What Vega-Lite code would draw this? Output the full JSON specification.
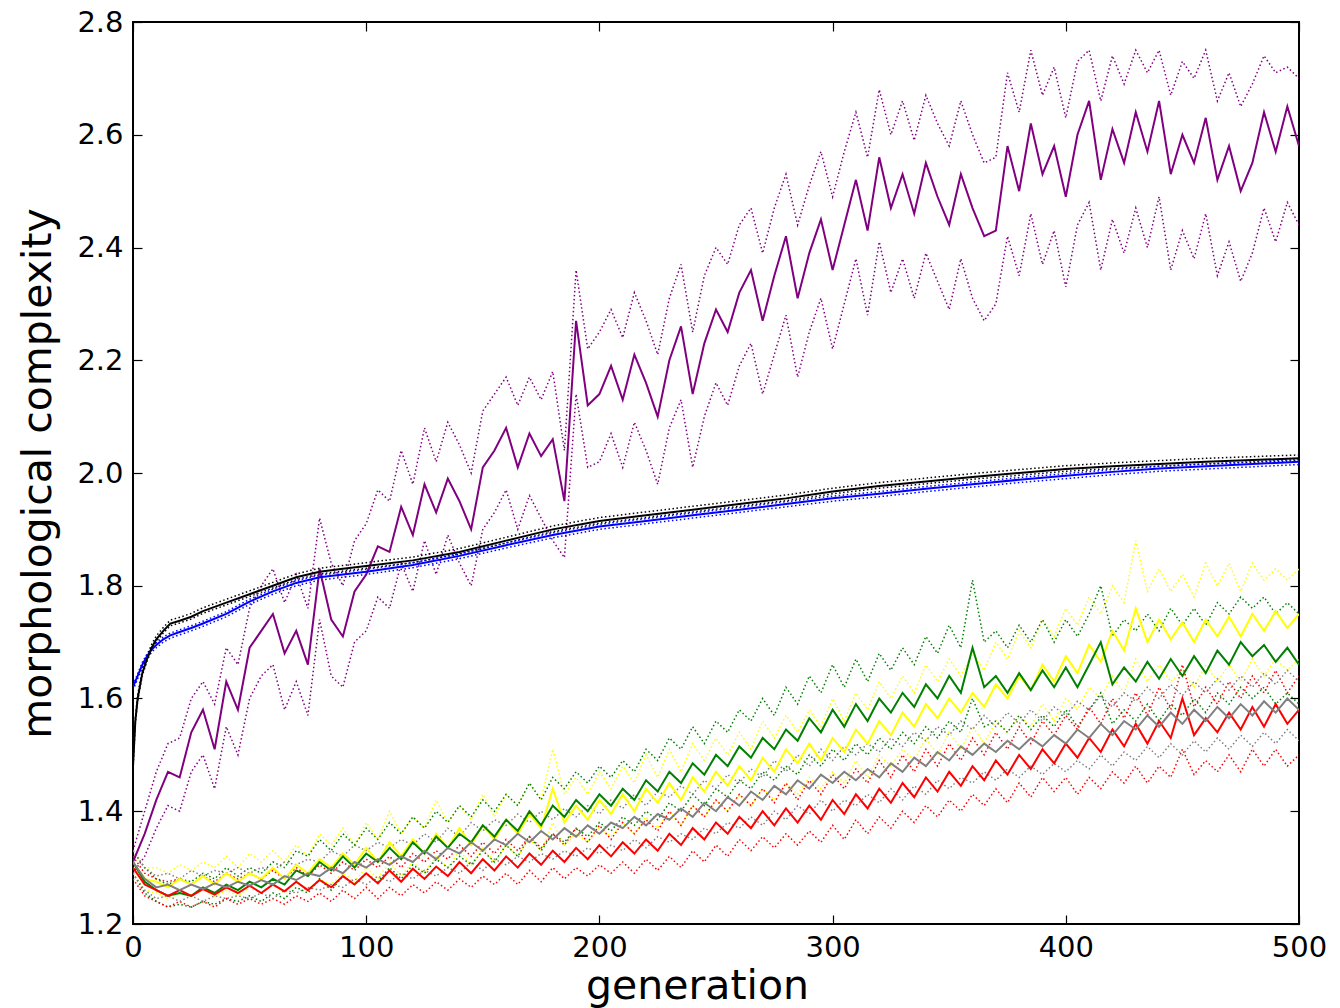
{
"$schema":"https://vega.github.io/schema/vega-lite/v6.json",
"width":1166,"height":902,
"autosize":{"type":"none"},
"padding":{"left":133,"top":22,"right":41,"bottom":84},
"background":"white",
"config":{"view":{"stroke":"black","strokeWidth":2},
"axis":{"grid":false,"domain":false,"tickColor":"black","tickSize":-9,"tickWidth":1.2,"labelFont":"DejaVu Sans","labelFontSize":29,"labelColor":"black","labelFlush":false,"labelOverlap":false,"titleFont":"DejaVu Sans","titleFontSize":41,"titleFontWeight":"normal","titleColor":"black"}},
"data":{"values":[
{"g":0,"s":"a","m":1.31,"l":1.29,"h":1.33},{"g":5,"s":"a","m":1.36,"l":1.32,"h":1.40},{"g":10,"s":"a","m":1.42,"l":1.37,"h":1.47},{"g":15,"s":"a","m":1.47,"l":1.41,"h":1.52},{"g":20,"s":"a","m":1.46,"l":1.40,"h":1.53},{"g":25,"s":"a","m":1.54,"l":1.47,"h":1.60},{"g":30,"s":"a","m":1.58,"l":1.50,"h":1.63},{"g":35,"s":"a","m":1.51,"l":1.44,"h":1.59},{"g":40,"s":"a","m":1.63,"l":1.55,"h":1.69},{"g":45,"s":"a","m":1.58,"l":1.50,"h":1.66},{"g":50,"s":"a","m":1.69,"l":1.60,"h":1.76},{"g":55,"s":"a","m":1.72,"l":1.64,"h":1.80},{"g":60,"s":"a","m":1.75,"l":1.66,"h":1.83},{"g":65,"s":"a","m":1.68,"l":1.58,"h":1.77},{"g":70,"s":"a","m":1.72,"l":1.63,"h":1.82},{"g":75,"s":"a","m":1.66,"l":1.57,"h":1.76},{"g":80,"s":"a","m":1.83,"l":1.74,"h":1.92},{"g":85,"s":"a","m":1.74,"l":1.64,"h":1.84},{"g":90,"s":"a","m":1.71,"l":1.62,"h":1.80},{"g":95,"s":"a","m":1.79,"l":1.70,"h":1.88},{"g":100,"s":"a","m":1.82,"l":1.72,"h":1.91},{"g":105,"s":"a","m":1.87,"l":1.78,"h":1.97},{"g":110,"s":"a","m":1.86,"l":1.76,"h":1.95},{"g":115,"s":"a","m":1.94,"l":1.84,"h":2.04},{"g":120,"s":"a","m":1.89,"l":1.79,"h":1.98},{"g":125,"s":"a","m":1.98,"l":1.88,"h":2.08},{"g":130,"s":"a","m":1.93,"l":1.82,"h":2.02},{"g":135,"s":"a","m":1.99,"l":1.89,"h":2.09},{"g":140,"s":"a","m":1.95,"l":1.84,"h":2.05},{"g":145,"s":"a","m":1.90,"l":1.80,"h":2.00},{"g":150,"s":"a","m":2.01,"l":1.90,"h":2.11},{"g":155,"s":"a","m":2.04,"l":1.93,"h":2.14},{"g":160,"s":"a","m":2.08,"l":1.97,"h":2.17},{"g":165,"s":"a","m":2.01,"l":1.90,"h":2.12},{"g":170,"s":"a","m":2.07,"l":1.96,"h":2.17},{"g":175,"s":"a","m":2.03,"l":1.92,"h":2.13},{"g":180,"s":"a","m":2.06,"l":1.88,"h":2.18},{"g":185,"s":"a","m":1.95,"l":1.85,"h":2.04},{"g":190,"s":"a","m":2.27,"l":2.14,"h":2.36},{"g":195,"s":"a","m":2.12,"l":2.01,"h":2.22},{"g":200,"s":"a","m":2.14,"l":2.02,"h":2.25},{"g":205,"s":"a","m":2.19,"l":2.07,"h":2.29},{"g":210,"s":"a","m":2.13,"l":2.01,"h":2.24},{"g":215,"s":"a","m":2.21,"l":2.09,"h":2.32},{"g":220,"s":"a","m":2.16,"l":2.04,"h":2.27},{"g":225,"s":"a","m":2.10,"l":1.98,"h":2.21},{"g":230,"s":"a","m":2.20,"l":2.08,"h":2.31},{"g":235,"s":"a","m":2.26,"l":2.13,"h":2.37},{"g":240,"s":"a","m":2.14,"l":2.01,"h":2.25},{"g":245,"s":"a","m":2.23,"l":2.10,"h":2.35},{"g":250,"s":"a","m":2.29,"l":2.16,"h":2.40},{"g":255,"s":"a","m":2.25,"l":2.12,"h":2.37},{"g":260,"s":"a","m":2.32,"l":2.19,"h":2.44},{"g":265,"s":"a","m":2.36,"l":2.23,"h":2.47},{"g":270,"s":"a","m":2.27,"l":2.14,"h":2.39},{"g":275,"s":"a","m":2.35,"l":2.21,"h":2.47},{"g":280,"s":"a","m":2.42,"l":2.28,"h":2.53},{"g":285,"s":"a","m":2.31,"l":2.17,"h":2.44},{"g":290,"s":"a","m":2.39,"l":2.25,"h":2.51},{"g":295,"s":"a","m":2.45,"l":2.31,"h":2.57},{"g":300,"s":"a","m":2.36,"l":2.22,"h":2.49},{"g":305,"s":"a","m":2.44,"l":2.30,"h":2.57},{"g":310,"s":"a","m":2.52,"l":2.38,"h":2.64},{"g":315,"s":"a","m":2.43,"l":2.28,"h":2.56},{"g":320,"s":"a","m":2.56,"l":2.41,"h":2.68},{"g":325,"s":"a","m":2.47,"l":2.32,"h":2.60},{"g":330,"s":"a","m":2.53,"l":2.38,"h":2.66},{"g":335,"s":"a","m":2.46,"l":2.31,"h":2.59},{"g":340,"s":"a","m":2.55,"l":2.39,"h":2.67},{"g":345,"s":"a","m":2.49,"l":2.34,"h":2.62},{"g":350,"s":"a","m":2.44,"l":2.29,"h":2.58},{"g":355,"s":"a","m":2.53,"l":2.38,"h":2.66},{"g":360,"s":"a","m":2.47,"l":2.31,"h":2.60},{"g":365,"s":"a","m":2.42,"l":2.27,"h":2.55},{"g":370,"s":"a","m":2.43,"l":2.30,"h":2.56},{"g":375,"s":"a","m":2.58,"l":2.42,"h":2.71},{"g":380,"s":"a","m":2.50,"l":2.35,"h":2.64},{"g":385,"s":"a","m":2.62,"l":2.46,"h":2.75},{"g":390,"s":"a","m":2.53,"l":2.37,"h":2.67},{"g":395,"s":"a","m":2.58,"l":2.43,"h":2.72},{"g":400,"s":"a","m":2.49,"l":2.33,"h":2.63},{"g":405,"s":"a","m":2.60,"l":2.44,"h":2.73},{"g":410,"s":"a","m":2.66,"l":2.48,"h":2.75},{"g":415,"s":"a","m":2.52,"l":2.36,"h":2.66},{"g":420,"s":"a","m":2.61,"l":2.45,"h":2.74},{"g":425,"s":"a","m":2.55,"l":2.39,"h":2.69},{"g":430,"s":"a","m":2.64,"l":2.47,"h":2.75},{"g":435,"s":"a","m":2.57,"l":2.40,"h":2.71},{"g":440,"s":"a","m":2.66,"l":2.49,"h":2.75},{"g":445,"s":"a","m":2.53,"l":2.36,"h":2.67},{"g":450,"s":"a","m":2.60,"l":2.43,"h":2.73},{"g":455,"s":"a","m":2.55,"l":2.38,"h":2.70},{"g":460,"s":"a","m":2.63,"l":2.46,"h":2.75},{"g":465,"s":"a","m":2.52,"l":2.35,"h":2.66},{"g":470,"s":"a","m":2.58,"l":2.41,"h":2.71},{"g":475,"s":"a","m":2.50,"l":2.34,"h":2.65},{"g":480,"s":"a","m":2.55,"l":2.39,"h":2.69},{"g":485,"s":"a","m":2.64,"l":2.47,"h":2.74},{"g":490,"s":"a","m":2.57,"l":2.41,"h":2.71},{"g":495,"s":"a","m":2.65,"l":2.48,"h":2.72},{"g":500,"s":"a","m":2.58,"l":2.44,"h":2.70},
{"g":0,"s":"b","m":1.31,"l":1.29,"h":1.33},{"g":5,"s":"b","m":1.28,"l":1.26,"h":1.30},{"g":10,"s":"b","m":1.275,"l":1.255,"h":1.30},{"g":15,"s":"b","m":1.265,"l":1.245,"h":1.29},{"g":20,"s":"b","m":1.28,"l":1.255,"h":1.305},{"g":25,"s":"b","m":1.27,"l":1.25,"h":1.295},{"g":30,"s":"b","m":1.285,"l":1.26,"h":1.31},{"g":35,"s":"b","m":1.27,"l":1.25,"h":1.30},{"g":40,"s":"b","m":1.29,"l":1.26,"h":1.32},{"g":45,"s":"b","m":1.275,"l":1.25,"h":1.30},{"g":50,"s":"b","m":1.29,"l":1.265,"h":1.325},{"g":55,"s":"b","m":1.28,"l":1.255,"h":1.31},{"g":60,"s":"b","m":1.30,"l":1.27,"h":1.33},{"g":65,"s":"b","m":1.28,"l":1.255,"h":1.31},{"g":70,"s":"b","m":1.305,"l":1.275,"h":1.34},{"g":75,"s":"b","m":1.29,"l":1.26,"h":1.32},{"g":80,"s":"b","m":1.315,"l":1.28,"h":1.36},{"g":85,"s":"b","m":1.30,"l":1.27,"h":1.34},{"g":90,"s":"b","m":1.325,"l":1.29,"h":1.37},{"g":95,"s":"b","m":1.305,"l":1.275,"h":1.34},{"g":100,"s":"b","m":1.335,"l":1.30,"h":1.38},{"g":105,"s":"b","m":1.31,"l":1.28,"h":1.35},{"g":110,"s":"b","m":1.345,"l":1.31,"h":1.40},{"g":115,"s":"b","m":1.32,"l":1.285,"h":1.36},{"g":120,"s":"b","m":1.35,"l":1.31,"h":1.39},{"g":125,"s":"b","m":1.325,"l":1.29,"h":1.37},{"g":130,"s":"b","m":1.36,"l":1.32,"h":1.42},{"g":135,"s":"b","m":1.335,"l":1.30,"h":1.38},{"g":140,"s":"b","m":1.37,"l":1.33,"h":1.41},{"g":145,"s":"b","m":1.34,"l":1.305,"h":1.385},{"g":150,"s":"b","m":1.375,"l":1.335,"h":1.43},{"g":155,"s":"b","m":1.35,"l":1.31,"h":1.39},{"g":160,"s":"b","m":1.385,"l":1.34,"h":1.43},{"g":165,"s":"b","m":1.36,"l":1.32,"h":1.41},{"g":170,"s":"b","m":1.395,"l":1.35,"h":1.45},{"g":175,"s":"b","m":1.37,"l":1.33,"h":1.42},{"g":180,"s":"b","m":1.44,"l":1.38,"h":1.51},{"g":185,"s":"b","m":1.38,"l":1.34,"h":1.43},{"g":190,"s":"b","m":1.41,"l":1.36,"h":1.46},{"g":195,"s":"b","m":1.385,"l":1.345,"h":1.43},{"g":200,"s":"b","m":1.42,"l":1.37,"h":1.47},{"g":205,"s":"b","m":1.395,"l":1.355,"h":1.44},{"g":210,"s":"b","m":1.43,"l":1.38,"h":1.48},{"g":215,"s":"b","m":1.40,"l":1.36,"h":1.45},{"g":220,"s":"b","m":1.44,"l":1.39,"h":1.50},{"g":225,"s":"b","m":1.415,"l":1.37,"h":1.46},{"g":230,"s":"b","m":1.45,"l":1.40,"h":1.51},{"g":235,"s":"b","m":1.42,"l":1.375,"h":1.47},{"g":240,"s":"b","m":1.46,"l":1.41,"h":1.52},{"g":245,"s":"b","m":1.435,"l":1.39,"h":1.49},{"g":250,"s":"b","m":1.47,"l":1.42,"h":1.53},{"g":255,"s":"b","m":1.445,"l":1.40,"h":1.50},{"g":260,"s":"b","m":1.48,"l":1.43,"h":1.54},{"g":265,"s":"b","m":1.455,"l":1.41,"h":1.51},{"g":270,"s":"b","m":1.495,"l":1.44,"h":1.56},{"g":275,"s":"b","m":1.47,"l":1.42,"h":1.53},{"g":280,"s":"b","m":1.51,"l":1.45,"h":1.57},{"g":285,"s":"b","m":1.485,"l":1.43,"h":1.54},{"g":290,"s":"b","m":1.52,"l":1.46,"h":1.58},{"g":295,"s":"b","m":1.49,"l":1.44,"h":1.55},{"g":300,"s":"b","m":1.53,"l":1.47,"h":1.60},{"g":305,"s":"b","m":1.505,"l":1.45,"h":1.56},{"g":310,"s":"b","m":1.545,"l":1.49,"h":1.61},{"g":315,"s":"b","m":1.52,"l":1.46,"h":1.58},{"g":320,"s":"b","m":1.56,"l":1.50,"h":1.63},{"g":325,"s":"b","m":1.535,"l":1.48,"h":1.60},{"g":330,"s":"b","m":1.575,"l":1.51,"h":1.64},{"g":335,"s":"b","m":1.55,"l":1.49,"h":1.61},{"g":340,"s":"b","m":1.59,"l":1.53,"h":1.66},{"g":345,"s":"b","m":1.565,"l":1.50,"h":1.63},{"g":350,"s":"b","m":1.60,"l":1.54,"h":1.67},{"g":355,"s":"b","m":1.575,"l":1.51,"h":1.64},{"g":360,"s":"b","m":1.61,"l":1.55,"h":1.68},{"g":365,"s":"b","m":1.585,"l":1.52,"h":1.65},{"g":370,"s":"b","m":1.625,"l":1.56,"h":1.70},{"g":375,"s":"b","m":1.60,"l":1.54,"h":1.67},{"g":380,"s":"b","m":1.64,"l":1.57,"h":1.72},{"g":385,"s":"b","m":1.615,"l":1.55,"h":1.69},{"g":390,"s":"b","m":1.66,"l":1.59,"h":1.74},{"g":395,"s":"b","m":1.63,"l":1.56,"h":1.71},{"g":400,"s":"b","m":1.675,"l":1.60,"h":1.76},{"g":405,"s":"b","m":1.645,"l":1.58,"h":1.73},{"g":410,"s":"b","m":1.695,"l":1.62,"h":1.78},{"g":415,"s":"b","m":1.665,"l":1.60,"h":1.75},{"g":420,"s":"b","m":1.72,"l":1.64,"h":1.80},{"g":425,"s":"b","m":1.685,"l":1.61,"h":1.77},{"g":430,"s":"b","m":1.76,"l":1.67,"h":1.88},{"g":435,"s":"b","m":1.70,"l":1.63,"h":1.79},{"g":440,"s":"b","m":1.74,"l":1.66,"h":1.83},{"g":445,"s":"b","m":1.705,"l":1.63,"h":1.79},{"g":450,"s":"b","m":1.735,"l":1.65,"h":1.82},{"g":455,"s":"b","m":1.70,"l":1.62,"h":1.78},{"g":460,"s":"b","m":1.74,"l":1.66,"h":1.84},{"g":465,"s":"b","m":1.71,"l":1.63,"h":1.80},{"g":470,"s":"b","m":1.745,"l":1.66,"h":1.84},{"g":475,"s":"b","m":1.71,"l":1.63,"h":1.79},{"g":480,"s":"b","m":1.75,"l":1.67,"h":1.84},{"g":485,"s":"b","m":1.72,"l":1.64,"h":1.81},{"g":490,"s":"b","m":1.755,"l":1.67,"h":1.83},{"g":495,"s":"b","m":1.725,"l":1.65,"h":1.81},{"g":500,"s":"b","m":1.75,"l":1.67,"h":1.83},
{"g":0,"s":"c","m":1.31,"l":1.29,"h":1.33},{"g":5,"s":"c","m":1.275,"l":1.255,"h":1.30},{"g":10,"s":"c","m":1.26,"l":1.24,"h":1.28},{"g":15,"s":"c","m":1.25,"l":1.23,"h":1.27},{"g":20,"s":"c","m":1.255,"l":1.235,"h":1.28},{"g":25,"s":"c","m":1.25,"l":1.23,"h":1.275},{"g":30,"s":"c","m":1.265,"l":1.24,"h":1.29},{"g":35,"s":"c","m":1.255,"l":1.235,"h":1.28},{"g":40,"s":"c","m":1.27,"l":1.245,"h":1.30},{"g":45,"s":"c","m":1.26,"l":1.24,"h":1.285},{"g":50,"s":"c","m":1.275,"l":1.25,"h":1.30},{"g":55,"s":"c","m":1.265,"l":1.24,"h":1.29},{"g":60,"s":"c","m":1.28,"l":1.255,"h":1.31},{"g":65,"s":"c","m":1.27,"l":1.245,"h":1.30},{"g":70,"s":"c","m":1.295,"l":1.265,"h":1.33},{"g":75,"s":"c","m":1.285,"l":1.255,"h":1.32},{"g":80,"s":"c","m":1.31,"l":1.28,"h":1.35},{"g":85,"s":"c","m":1.295,"l":1.26,"h":1.33},{"g":90,"s":"c","m":1.32,"l":1.285,"h":1.36},{"g":95,"s":"c","m":1.30,"l":1.27,"h":1.34},{"g":100,"s":"c","m":1.325,"l":1.29,"h":1.37},{"g":105,"s":"c","m":1.31,"l":1.275,"h":1.35},{"g":110,"s":"c","m":1.335,"l":1.30,"h":1.38},{"g":115,"s":"c","m":1.315,"l":1.28,"h":1.36},{"g":120,"s":"c","m":1.345,"l":1.305,"h":1.39},{"g":125,"s":"c","m":1.325,"l":1.29,"h":1.37},{"g":130,"s":"c","m":1.355,"l":1.315,"h":1.40},{"g":135,"s":"c","m":1.335,"l":1.30,"h":1.38},{"g":140,"s":"c","m":1.36,"l":1.32,"h":1.41},{"g":145,"s":"c","m":1.345,"l":1.305,"h":1.39},{"g":150,"s":"c","m":1.375,"l":1.33,"h":1.42},{"g":155,"s":"c","m":1.355,"l":1.31,"h":1.40},{"g":160,"s":"c","m":1.385,"l":1.34,"h":1.43},{"g":165,"s":"c","m":1.365,"l":1.32,"h":1.41},{"g":170,"s":"c","m":1.40,"l":1.355,"h":1.45},{"g":175,"s":"c","m":1.375,"l":1.33,"h":1.42},{"g":180,"s":"c","m":1.41,"l":1.36,"h":1.46},{"g":185,"s":"c","m":1.39,"l":1.345,"h":1.44},{"g":190,"s":"c","m":1.42,"l":1.37,"h":1.47},{"g":195,"s":"c","m":1.40,"l":1.355,"h":1.45},{"g":200,"s":"c","m":1.43,"l":1.38,"h":1.48},{"g":205,"s":"c","m":1.41,"l":1.365,"h":1.46},{"g":210,"s":"c","m":1.44,"l":1.39,"h":1.49},{"g":215,"s":"c","m":1.42,"l":1.375,"h":1.47},{"g":220,"s":"c","m":1.455,"l":1.40,"h":1.51},{"g":225,"s":"c","m":1.435,"l":1.385,"h":1.49},{"g":230,"s":"c","m":1.47,"l":1.415,"h":1.53},{"g":235,"s":"c","m":1.45,"l":1.40,"h":1.51},{"g":240,"s":"c","m":1.485,"l":1.43,"h":1.55},{"g":245,"s":"c","m":1.465,"l":1.41,"h":1.52},{"g":250,"s":"c","m":1.50,"l":1.44,"h":1.56},{"g":255,"s":"c","m":1.48,"l":1.425,"h":1.54},{"g":260,"s":"c","m":1.515,"l":1.455,"h":1.58},{"g":265,"s":"c","m":1.495,"l":1.44,"h":1.56},{"g":270,"s":"c","m":1.53,"l":1.47,"h":1.60},{"g":275,"s":"c","m":1.51,"l":1.455,"h":1.57},{"g":280,"s":"c","m":1.545,"l":1.48,"h":1.62},{"g":285,"s":"c","m":1.525,"l":1.465,"h":1.59},{"g":290,"s":"c","m":1.565,"l":1.50,"h":1.64},{"g":295,"s":"c","m":1.54,"l":1.48,"h":1.61},{"g":300,"s":"c","m":1.58,"l":1.51,"h":1.66},{"g":305,"s":"c","m":1.55,"l":1.49,"h":1.62},{"g":310,"s":"c","m":1.59,"l":1.52,"h":1.67},{"g":315,"s":"c","m":1.56,"l":1.50,"h":1.63},{"g":320,"s":"c","m":1.60,"l":1.53,"h":1.68},{"g":325,"s":"c","m":1.575,"l":1.51,"h":1.65},{"g":330,"s":"c","m":1.61,"l":1.54,"h":1.69},{"g":335,"s":"c","m":1.585,"l":1.52,"h":1.66},{"g":340,"s":"c","m":1.625,"l":1.55,"h":1.71},{"g":345,"s":"c","m":1.60,"l":1.53,"h":1.68},{"g":350,"s":"c","m":1.64,"l":1.56,"h":1.73},{"g":355,"s":"c","m":1.61,"l":1.54,"h":1.69},{"g":360,"s":"c","m":1.69,"l":1.60,"h":1.81},{"g":365,"s":"c","m":1.62,"l":1.55,"h":1.70},{"g":370,"s":"c","m":1.64,"l":1.56,"h":1.72},{"g":375,"s":"c","m":1.61,"l":1.54,"h":1.69},{"g":380,"s":"c","m":1.645,"l":1.57,"h":1.73},{"g":385,"s":"c","m":1.615,"l":1.545,"h":1.70},{"g":390,"s":"c","m":1.65,"l":1.57,"h":1.74},{"g":395,"s":"c","m":1.62,"l":1.55,"h":1.70},{"g":400,"s":"c","m":1.655,"l":1.58,"h":1.74},{"g":405,"s":"c","m":1.62,"l":1.55,"h":1.71},{"g":410,"s":"c","m":1.66,"l":1.58,"h":1.75},{"g":415,"s":"c","m":1.70,"l":1.61,"h":1.80},{"g":420,"s":"c","m":1.625,"l":1.555,"h":1.71},{"g":425,"s":"c","m":1.655,"l":1.58,"h":1.74},{"g":430,"s":"c","m":1.63,"l":1.56,"h":1.72},{"g":435,"s":"c","m":1.665,"l":1.59,"h":1.75},{"g":440,"s":"c","m":1.635,"l":1.56,"h":1.72},{"g":445,"s":"c","m":1.67,"l":1.59,"h":1.76},{"g":450,"s":"c","m":1.64,"l":1.57,"h":1.73},{"g":455,"s":"c","m":1.675,"l":1.60,"h":1.76},{"g":460,"s":"c","m":1.645,"l":1.575,"h":1.73},{"g":465,"s":"c","m":1.685,"l":1.61,"h":1.77},{"g":470,"s":"c","m":1.66,"l":1.59,"h":1.75},{"g":475,"s":"c","m":1.70,"l":1.62,"h":1.78},{"g":480,"s":"c","m":1.675,"l":1.60,"h":1.76},{"g":485,"s":"c","m":1.695,"l":1.62,"h":1.78},{"g":490,"s":"c","m":1.665,"l":1.59,"h":1.75},{"g":495,"s":"c","m":1.69,"l":1.61,"h":1.77},{"g":500,"s":"c","m":1.66,"l":1.59,"h":1.75},
{"g":0,"s":"d","m":1.30,"l":1.28,"h":1.32},{"g":5,"s":"d","m":1.27,"l":1.25,"h":1.29},{"g":10,"s":"d","m":1.26,"l":1.24,"h":1.28},{"g":15,"s":"d","m":1.25,"l":1.23,"h":1.275},{"g":20,"s":"d","m":1.26,"l":1.24,"h":1.28},{"g":25,"s":"d","m":1.25,"l":1.23,"h":1.27},{"g":30,"s":"d","m":1.262,"l":1.24,"h":1.285},{"g":35,"s":"d","m":1.252,"l":1.23,"h":1.275},{"g":40,"s":"d","m":1.265,"l":1.245,"h":1.29},{"g":45,"s":"d","m":1.255,"l":1.235,"h":1.28},{"g":50,"s":"d","m":1.268,"l":1.245,"h":1.29},{"g":55,"s":"d","m":1.255,"l":1.235,"h":1.28},{"g":60,"s":"d","m":1.27,"l":1.245,"h":1.295},{"g":65,"s":"d","m":1.258,"l":1.235,"h":1.28},{"g":70,"s":"d","m":1.275,"l":1.25,"h":1.30},{"g":75,"s":"d","m":1.26,"l":1.24,"h":1.285},{"g":80,"s":"d","m":1.278,"l":1.255,"h":1.305},{"g":85,"s":"d","m":1.265,"l":1.24,"h":1.29},{"g":90,"s":"d","m":1.285,"l":1.26,"h":1.31},{"g":95,"s":"d","m":1.27,"l":1.245,"h":1.295},{"g":100,"s":"d","m":1.29,"l":1.265,"h":1.315},{"g":105,"s":"d","m":1.272,"l":1.245,"h":1.30},{"g":110,"s":"d","m":1.295,"l":1.265,"h":1.32},{"g":115,"s":"d","m":1.275,"l":1.25,"h":1.30},{"g":120,"s":"d","m":1.298,"l":1.27,"h":1.325},{"g":125,"s":"d","m":1.28,"l":1.255,"h":1.31},{"g":130,"s":"d","m":1.302,"l":1.275,"h":1.33},{"g":135,"s":"d","m":1.285,"l":1.26,"h":1.315},{"g":140,"s":"d","m":1.31,"l":1.28,"h":1.34},{"g":145,"s":"d","m":1.29,"l":1.265,"h":1.32},{"g":150,"s":"d","m":1.315,"l":1.285,"h":1.345},{"g":155,"s":"d","m":1.295,"l":1.27,"h":1.325},{"g":160,"s":"d","m":1.32,"l":1.29,"h":1.35},{"g":165,"s":"d","m":1.30,"l":1.27,"h":1.33},{"g":170,"s":"d","m":1.325,"l":1.295,"h":1.355},{"g":175,"s":"d","m":1.305,"l":1.275,"h":1.335},{"g":180,"s":"d","m":1.33,"l":1.30,"h":1.36},{"g":185,"s":"d","m":1.31,"l":1.28,"h":1.34},{"g":190,"s":"d","m":1.335,"l":1.30,"h":1.37},{"g":195,"s":"d","m":1.315,"l":1.285,"h":1.345},{"g":200,"s":"d","m":1.34,"l":1.305,"h":1.375},{"g":205,"s":"d","m":1.32,"l":1.29,"h":1.35},{"g":210,"s":"d","m":1.345,"l":1.31,"h":1.38},{"g":215,"s":"d","m":1.325,"l":1.29,"h":1.36},{"g":220,"s":"d","m":1.35,"l":1.315,"h":1.385},{"g":225,"s":"d","m":1.33,"l":1.295,"h":1.365},{"g":230,"s":"d","m":1.36,"l":1.32,"h":1.40},{"g":235,"s":"d","m":1.34,"l":1.30,"h":1.375},{"g":240,"s":"d","m":1.37,"l":1.33,"h":1.41},{"g":245,"s":"d","m":1.35,"l":1.31,"h":1.39},{"g":250,"s":"d","m":1.38,"l":1.34,"h":1.42},{"g":255,"s":"d","m":1.36,"l":1.32,"h":1.40},{"g":260,"s":"d","m":1.39,"l":1.35,"h":1.43},{"g":265,"s":"d","m":1.37,"l":1.33,"h":1.41},{"g":270,"s":"d","m":1.40,"l":1.355,"h":1.44},{"g":275,"s":"d","m":1.375,"l":1.335,"h":1.415},{"g":280,"s":"d","m":1.405,"l":1.36,"h":1.45},{"g":285,"s":"d","m":1.38,"l":1.34,"h":1.42},{"g":290,"s":"d","m":1.41,"l":1.365,"h":1.455},{"g":295,"s":"d","m":1.385,"l":1.345,"h":1.43},{"g":300,"s":"d","m":1.42,"l":1.375,"h":1.465},{"g":305,"s":"d","m":1.395,"l":1.35,"h":1.44},{"g":310,"s":"d","m":1.43,"l":1.385,"h":1.475},{"g":315,"s":"d","m":1.405,"l":1.36,"h":1.45},{"g":320,"s":"d","m":1.44,"l":1.39,"h":1.49},{"g":325,"s":"d","m":1.415,"l":1.37,"h":1.46},{"g":330,"s":"d","m":1.45,"l":1.40,"h":1.50},{"g":335,"s":"d","m":1.425,"l":1.38,"h":1.47},{"g":340,"s":"d","m":1.46,"l":1.41,"h":1.51},{"g":345,"s":"d","m":1.435,"l":1.39,"h":1.48},{"g":350,"s":"d","m":1.47,"l":1.42,"h":1.52},{"g":355,"s":"d","m":1.445,"l":1.40,"h":1.49},{"g":360,"s":"d","m":1.48,"l":1.43,"h":1.53},{"g":365,"s":"d","m":1.455,"l":1.41,"h":1.50},{"g":370,"s":"d","m":1.49,"l":1.44,"h":1.54},{"g":375,"s":"d","m":1.465,"l":1.415,"h":1.51},{"g":380,"s":"d","m":1.50,"l":1.45,"h":1.55},{"g":385,"s":"d","m":1.475,"l":1.425,"h":1.52},{"g":390,"s":"d","m":1.51,"l":1.46,"h":1.56},{"g":395,"s":"d","m":1.485,"l":1.435,"h":1.535},{"g":400,"s":"d","m":1.52,"l":1.46,"h":1.57},{"g":405,"s":"d","m":1.495,"l":1.43,"h":1.545},{"g":410,"s":"d","m":1.53,"l":1.46,"h":1.585},{"g":415,"s":"d","m":1.505,"l":1.44,"h":1.555},{"g":420,"s":"d","m":1.545,"l":1.47,"h":1.60},{"g":425,"s":"d","m":1.515,"l":1.45,"h":1.565},{"g":430,"s":"d","m":1.555,"l":1.48,"h":1.61},{"g":435,"s":"d","m":1.52,"l":1.45,"h":1.57},{"g":440,"s":"d","m":1.56,"l":1.48,"h":1.62},{"g":445,"s":"d","m":1.53,"l":1.46,"h":1.58},{"g":450,"s":"d","m":1.60,"l":1.51,"h":1.66},{"g":455,"s":"d","m":1.535,"l":1.465,"h":1.585},{"g":460,"s":"d","m":1.565,"l":1.49,"h":1.62},{"g":465,"s":"d","m":1.54,"l":1.47,"h":1.59},{"g":470,"s":"d","m":1.575,"l":1.50,"h":1.63},{"g":475,"s":"d","m":1.545,"l":1.47,"h":1.60},{"g":480,"s":"d","m":1.585,"l":1.51,"h":1.64},{"g":485,"s":"d","m":1.55,"l":1.48,"h":1.61},{"g":490,"s":"d","m":1.59,"l":1.51,"h":1.65},{"g":495,"s":"d","m":1.555,"l":1.48,"h":1.61},{"g":500,"s":"d","m":1.58,"l":1.50,"h":1.64},
{"g":0,"s":"e","m":1.31,"l":1.29,"h":1.33},{"g":5,"s":"e","m":1.28,"l":1.26,"h":1.30},{"g":10,"s":"e","m":1.265,"l":1.245,"h":1.285},{"g":15,"s":"e","m":1.27,"l":1.25,"h":1.29},{"g":20,"s":"e","m":1.26,"l":1.24,"h":1.28},{"g":25,"s":"e","m":1.27,"l":1.25,"h":1.295},{"g":30,"s":"e","m":1.262,"l":1.24,"h":1.285},{"g":35,"s":"e","m":1.272,"l":1.25,"h":1.295},{"g":40,"s":"e","m":1.265,"l":1.245,"h":1.29},{"g":45,"s":"e","m":1.275,"l":1.25,"h":1.30},{"g":50,"s":"e","m":1.268,"l":1.245,"h":1.29},{"g":55,"s":"e","m":1.278,"l":1.255,"h":1.30},{"g":60,"s":"e","m":1.27,"l":1.245,"h":1.295},{"g":65,"s":"e","m":1.285,"l":1.26,"h":1.31},{"g":70,"s":"e","m":1.278,"l":1.255,"h":1.305},{"g":75,"s":"e","m":1.29,"l":1.265,"h":1.315},{"g":80,"s":"e","m":1.285,"l":1.26,"h":1.31},{"g":85,"s":"e","m":1.30,"l":1.27,"h":1.33},{"g":90,"s":"e","m":1.29,"l":1.265,"h":1.32},{"g":95,"s":"e","m":1.31,"l":1.28,"h":1.34},{"g":100,"s":"e","m":1.30,"l":1.27,"h":1.33},{"g":105,"s":"e","m":1.315,"l":1.285,"h":1.345},{"g":110,"s":"e","m":1.305,"l":1.275,"h":1.335},{"g":115,"s":"e","m":1.32,"l":1.29,"h":1.35},{"g":120,"s":"e","m":1.31,"l":1.28,"h":1.34},{"g":125,"s":"e","m":1.33,"l":1.295,"h":1.36},{"g":130,"s":"e","m":1.315,"l":1.285,"h":1.345},{"g":135,"s":"e","m":1.335,"l":1.30,"h":1.37},{"g":140,"s":"e","m":1.325,"l":1.29,"h":1.355},{"g":145,"s":"e","m":1.345,"l":1.31,"h":1.38},{"g":150,"s":"e","m":1.33,"l":1.295,"h":1.365},{"g":155,"s":"e","m":1.35,"l":1.315,"h":1.385},{"g":160,"s":"e","m":1.34,"l":1.305,"h":1.375},{"g":165,"s":"e","m":1.36,"l":1.32,"h":1.395},{"g":170,"s":"e","m":1.345,"l":1.31,"h":1.38},{"g":175,"s":"e","m":1.365,"l":1.325,"h":1.40},{"g":180,"s":"e","m":1.35,"l":1.315,"h":1.385},{"g":185,"s":"e","m":1.37,"l":1.33,"h":1.405},{"g":190,"s":"e","m":1.355,"l":1.32,"h":1.39},{"g":195,"s":"e","m":1.375,"l":1.335,"h":1.41},{"g":200,"s":"e","m":1.36,"l":1.325,"h":1.395},{"g":205,"s":"e","m":1.38,"l":1.34,"h":1.42},{"g":210,"s":"e","m":1.37,"l":1.33,"h":1.405},{"g":215,"s":"e","m":1.39,"l":1.35,"h":1.43},{"g":220,"s":"e","m":1.375,"l":1.335,"h":1.41},{"g":225,"s":"e","m":1.395,"l":1.355,"h":1.435},{"g":230,"s":"e","m":1.385,"l":1.345,"h":1.425},{"g":235,"s":"e","m":1.405,"l":1.36,"h":1.445},{"g":240,"s":"e","m":1.39,"l":1.35,"h":1.43},{"g":245,"s":"e","m":1.415,"l":1.37,"h":1.455},{"g":250,"s":"e","m":1.40,"l":1.36,"h":1.44},{"g":255,"s":"e","m":1.425,"l":1.38,"h":1.465},{"g":260,"s":"e","m":1.41,"l":1.37,"h":1.45},{"g":265,"s":"e","m":1.435,"l":1.39,"h":1.475},{"g":270,"s":"e","m":1.42,"l":1.375,"h":1.46},{"g":275,"s":"e","m":1.445,"l":1.40,"h":1.49},{"g":280,"s":"e","m":1.43,"l":1.385,"h":1.47},{"g":285,"s":"e","m":1.455,"l":1.41,"h":1.50},{"g":290,"s":"e","m":1.44,"l":1.395,"h":1.48},{"g":295,"s":"e","m":1.465,"l":1.42,"h":1.51},{"g":300,"s":"e","m":1.45,"l":1.40,"h":1.49},{"g":305,"s":"e","m":1.47,"l":1.42,"h":1.515},{"g":310,"s":"e","m":1.455,"l":1.41,"h":1.50},{"g":315,"s":"e","m":1.475,"l":1.43,"h":1.52},{"g":320,"s":"e","m":1.46,"l":1.415,"h":1.505},{"g":325,"s":"e","m":1.485,"l":1.44,"h":1.53},{"g":330,"s":"e","m":1.47,"l":1.42,"h":1.515},{"g":335,"s":"e","m":1.495,"l":1.445,"h":1.54},{"g":340,"s":"e","m":1.48,"l":1.43,"h":1.525},{"g":345,"s":"e","m":1.505,"l":1.455,"h":1.55},{"g":350,"s":"e","m":1.49,"l":1.44,"h":1.535},{"g":355,"s":"e","m":1.515,"l":1.46,"h":1.56},{"g":360,"s":"e","m":1.50,"l":1.45,"h":1.545},{"g":365,"s":"e","m":1.52,"l":1.47,"h":1.57},{"g":370,"s":"e","m":1.505,"l":1.455,"h":1.55},{"g":375,"s":"e","m":1.525,"l":1.475,"h":1.575},{"g":380,"s":"e","m":1.51,"l":1.46,"h":1.555},{"g":385,"s":"e","m":1.53,"l":1.48,"h":1.58},{"g":390,"s":"e","m":1.515,"l":1.465,"h":1.56},{"g":395,"s":"e","m":1.535,"l":1.485,"h":1.585},{"g":400,"s":"e","m":1.52,"l":1.47,"h":1.57},{"g":405,"s":"e","m":1.545,"l":1.49,"h":1.595},{"g":410,"s":"e","m":1.53,"l":1.475,"h":1.58},{"g":415,"s":"e","m":1.555,"l":1.50,"h":1.605},{"g":420,"s":"e","m":1.535,"l":1.48,"h":1.585},{"g":425,"s":"e","m":1.56,"l":1.505,"h":1.61},{"g":430,"s":"e","m":1.545,"l":1.49,"h":1.595},{"g":435,"s":"e","m":1.57,"l":1.515,"h":1.62},{"g":440,"s":"e","m":1.55,"l":1.495,"h":1.60},{"g":445,"s":"e","m":1.575,"l":1.52,"h":1.625},{"g":450,"s":"e","m":1.555,"l":1.50,"h":1.605},{"g":455,"s":"e","m":1.58,"l":1.525,"h":1.63},{"g":460,"s":"e","m":1.56,"l":1.505,"h":1.61},{"g":465,"s":"e","m":1.585,"l":1.53,"h":1.635},{"g":470,"s":"e","m":1.565,"l":1.51,"h":1.615},{"g":475,"s":"e","m":1.59,"l":1.535,"h":1.64},{"g":480,"s":"e","m":1.57,"l":1.515,"h":1.62},{"g":485,"s":"e","m":1.595,"l":1.54,"h":1.645},{"g":490,"s":"e","m":1.575,"l":1.52,"h":1.625},{"g":495,"s":"e","m":1.60,"l":1.545,"h":1.65},{"g":500,"s":"e","m":1.58,"l":1.525,"h":1.63},
{"g":0,"s":"f","m":1.62,"l":1.615,"h":1.624},{"g":2,"s":"f","m":1.64,"l":1.635,"h":1.644},{"g":4,"s":"f","m":1.66,"l":1.655,"h":1.664},{"g":6,"s":"f","m":1.675,"l":1.67,"h":1.679},{"g":8,"s":"f","m":1.687,"l":1.682,"h":1.691},{"g":10,"s":"f","m":1.695,"l":1.69,"h":1.699},{"g":13,"s":"f","m":1.705,"l":1.70,"h":1.709},{"g":16,"s":"f","m":1.712,"l":1.707,"h":1.716},{"g":20,"s":"f","m":1.718,"l":1.713,"h":1.722},{"g":25,"s":"f","m":1.725,"l":1.72,"h":1.729},{"g":30,"s":"f","m":1.733,"l":1.728,"h":1.737},{"g":40,"s":"f","m":1.75,"l":1.745,"h":1.754},{"g":50,"s":"f","m":1.772,"l":1.767,"h":1.776},{"g":60,"s":"f","m":1.79,"l":1.785,"h":1.794},{"g":70,"s":"f","m":1.805,"l":1.80,"h":1.809},{"g":80,"s":"f","m":1.815,"l":1.81,"h":1.819},{"g":90,"s":"f","m":1.82,"l":1.815,"h":1.824},{"g":100,"s":"f","m":1.825,"l":1.82,"h":1.829},{"g":120,"s":"f","m":1.837,"l":1.832,"h":1.841},{"g":140,"s":"f","m":1.853,"l":1.848,"h":1.857},{"g":160,"s":"f","m":1.872,"l":1.867,"h":1.876},{"g":180,"s":"f","m":1.89,"l":1.885,"h":1.894},{"g":200,"s":"f","m":1.905,"l":1.90,"h":1.909},{"g":220,"s":"f","m":1.915,"l":1.91,"h":1.919},{"g":240,"s":"f","m":1.925,"l":1.92,"h":1.929},{"g":260,"s":"f","m":1.935,"l":1.93,"h":1.939},{"g":280,"s":"f","m":1.945,"l":1.94,"h":1.949},{"g":300,"s":"f","m":1.955,"l":1.95,"h":1.959},{"g":320,"s":"f","m":1.963,"l":1.958,"h":1.967},{"g":340,"s":"f","m":1.972,"l":1.967,"h":1.976},{"g":360,"s":"f","m":1.98,"l":1.975,"h":1.984},{"g":380,"s":"f","m":1.988,"l":1.983,"h":1.992},{"g":400,"s":"f","m":1.995,"l":1.99,"h":1.999},{"g":420,"s":"f","m":2.002,"l":1.997,"h":2.006},{"g":440,"s":"f","m":2.008,"l":2.003,"h":2.012},{"g":460,"s":"f","m":2.012,"l":2.007,"h":2.016},{"g":480,"s":"f","m":2.016,"l":2.011,"h":2.02},{"g":500,"s":"f","m":2.02,"l":2.015,"h":2.024},
{"g":0,"s":"k","m":1.48,"l":1.476,"h":1.486},{"g":1,"s":"k","m":1.56,"l":1.556,"h":1.566},{"g":2,"s":"k","m":1.60,"l":1.596,"h":1.606},{"g":4,"s":"k","m":1.645,"l":1.641,"h":1.651},{"g":6,"s":"k","m":1.67,"l":1.666,"h":1.676},{"g":8,"s":"k","m":1.69,"l":1.686,"h":1.696},{"g":10,"s":"k","m":1.705,"l":1.701,"h":1.711},{"g":13,"s":"k","m":1.72,"l":1.716,"h":1.726},{"g":16,"s":"k","m":1.733,"l":1.729,"h":1.739},{"g":20,"s":"k","m":1.738,"l":1.734,"h":1.744},{"g":25,"s":"k","m":1.745,"l":1.741,"h":1.751},{"g":30,"s":"k","m":1.755,"l":1.751,"h":1.761},{"g":40,"s":"k","m":1.77,"l":1.766,"h":1.776},{"g":50,"s":"k","m":1.785,"l":1.781,"h":1.791},{"g":60,"s":"k","m":1.80,"l":1.796,"h":1.806},{"g":70,"s":"k","m":1.815,"l":1.811,"h":1.821},{"g":80,"s":"k","m":1.825,"l":1.821,"h":1.831},{"g":90,"s":"k","m":1.83,"l":1.826,"h":1.836},{"g":100,"s":"k","m":1.835,"l":1.831,"h":1.841},{"g":120,"s":"k","m":1.845,"l":1.841,"h":1.851},{"g":140,"s":"k","m":1.86,"l":1.856,"h":1.866},{"g":160,"s":"k","m":1.88,"l":1.876,"h":1.886},{"g":180,"s":"k","m":1.90,"l":1.896,"h":1.906},{"g":200,"s":"k","m":1.915,"l":1.911,"h":1.921},{"g":220,"s":"k","m":1.925,"l":1.921,"h":1.931},{"g":240,"s":"k","m":1.935,"l":1.931,"h":1.941},{"g":260,"s":"k","m":1.945,"l":1.941,"h":1.951},{"g":280,"s":"k","m":1.955,"l":1.951,"h":1.961},{"g":300,"s":"k","m":1.967,"l":1.963,"h":1.973},{"g":320,"s":"k","m":1.977,"l":1.973,"h":1.983},{"g":340,"s":"k","m":1.985,"l":1.981,"h":1.991},{"g":360,"s":"k","m":1.993,"l":1.989,"h":1.999},{"g":380,"s":"k","m":2.0,"l":1.996,"h":2.006},{"g":400,"s":"k","m":2.007,"l":2.003,"h":2.013},{"g":420,"s":"k","m":2.012,"l":2.008,"h":2.018},{"g":440,"s":"k","m":2.016,"l":2.012,"h":2.022},{"g":460,"s":"k","m":2.02,"l":2.016,"h":2.026},{"g":480,"s":"k","m":2.023,"l":2.019,"h":2.029},{"g":500,"s":"k","m":2.026,"l":2.022,"h":2.032}
]},
"resolve":{"axis":{"x":"independent","y":"independent"}},
"layer":[
{"mark":{"type":"line","strokeWidth":1.5,"strokeDash":[1.5,2.5],"clip":true},
"encoding":{"x":{"field":"g","type":"quantitative","scale":{"domain":[0,500],"nice":false},"axis":{"values":[0,100,200,300,400,500],"title":"generation","labelPadding":18,"titlePadding":4,"titleX":564}},
"y":{"field":"l","type":"quantitative","scale":{"domain":[1.2,2.8],"nice":false,"zero":false},"axis":{"values":[1.2,1.4,1.6,1.8,2.0,2.2,2.4,2.6,2.8],"format":".1f","title":"morphological complexity","labelPadding":19,"titlePadding":17}},
"color":{"field":"s","type":"nominal","legend":null,"scale":{"domain":["a","b","c","d","e","f","k"],"range":["#800080","#ffff00","#008000","#ff0000","#808080","#0000ff","#000000"]}}}},
{"mark":{"type":"line","strokeWidth":1.5,"strokeDash":[1.5,2.5],"clip":true},
"encoding":{"x":{"field":"g","type":"quantitative","axis":null},"y":{"field":"h","type":"quantitative","axis":null},"color":{"field":"s","type":"nominal"}}},
{"mark":{"type":"line","strokeWidth":2,"clip":true},
"encoding":{"x":{"field":"g","type":"quantitative","axis":null},"y":{"field":"m","type":"quantitative","axis":null},"color":{"field":"s","type":"nominal"}}},
{"mark":{"type":"point","opacity":0},
"encoding":{"x":{"field":"g","type":"quantitative","axis":{"orient":"top","labels":false,"title":null,"values":[0,100,200,300,400,500]}},
"y":{"field":"m","type":"quantitative","axis":{"orient":"right","labels":false,"title":null,"values":[1.2,1.4,1.6,1.8,2.0,2.2,2.4,2.6,2.8]}}}}
]
}
